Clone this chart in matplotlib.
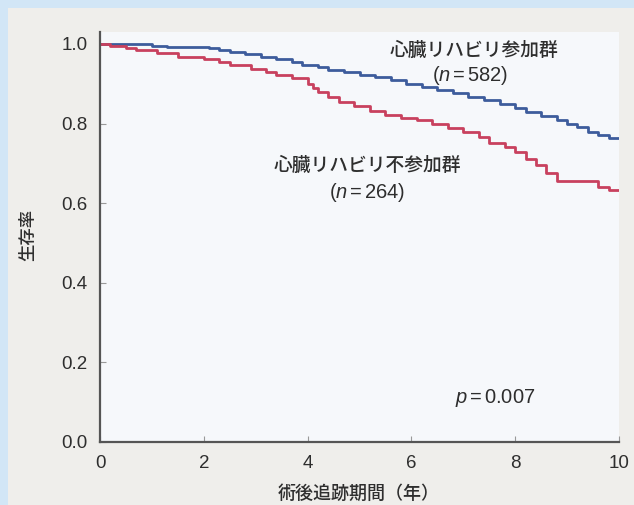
import matplotlib.pyplot as plt
from matplotlib.patches import Rectangle

# survival curves (time in years, survival)
rehab_t = [0, 1.0, 1.3, 2.1, 2.3, 2.5, 2.8, 3.1, 3.4, 3.7, 3.9, 4.2, 4.4, 4.7, 5.0,
           5.3, 5.6, 5.9, 6.2, 6.5, 6.8, 7.1, 7.4, 7.7, 8.0, 8.2, 8.5, 8.8, 9.0,
           9.2, 9.4, 9.6, 9.8, 10.0]
rehab_s = [1.0, 0.995, 0.993, 0.99, 0.985, 0.98, 0.975, 0.968, 0.962, 0.955, 0.948,
           0.942, 0.935, 0.93, 0.923, 0.916, 0.91, 0.9, 0.893, 0.885, 0.876, 0.866,
           0.858, 0.848, 0.838, 0.83, 0.82, 0.81, 0.8, 0.792, 0.78, 0.77, 0.763, 0.763]

norehab_t = [0, 0.2, 0.5, 0.7, 1.1, 1.5, 2.0, 2.3, 2.5, 2.9, 3.2, 3.4, 3.7, 4.0, 4.1,
             4.2, 4.4, 4.6, 4.9, 5.2, 5.5, 5.8, 6.1, 6.4, 6.7, 7.0, 7.3, 7.5, 7.8,
             8.0, 8.2, 8.4, 8.6, 8.8, 9.6, 9.8, 10.0]
norehab_s = [1.0, 0.995, 0.99, 0.985, 0.977, 0.968, 0.962, 0.955, 0.947, 0.938, 0.93,
             0.922, 0.915, 0.9, 0.89, 0.88, 0.866, 0.855, 0.845, 0.832, 0.822, 0.815,
             0.808, 0.8, 0.79, 0.778, 0.765, 0.752, 0.74, 0.728, 0.712, 0.695, 0.675,
             0.655, 0.64, 0.632, 0.632]

xticks = [0, 2, 4, 6, 8, 10]
yticks = [0.0, 0.2, 0.4, 0.6, 0.8, 1.0]

plt.rcParams['font.family'] = ['Liberation Sans', 'Noto Sans CJK JP']
plt.rcParams['mathtext.fontset'] = 'custom'
plt.rcParams['mathtext.it'] = 'Liberation Sans:italic'
plt.rcParams['mathtext.rm'] = 'Liberation Sans'

fig = plt.figure(figsize=(6.34, 5.05), dpi=100, facecolor='#d2e6f6')
fig.patches.append(Rectangle((8 / 634, 0), 1, 1 - 8 / 505, transform=fig.transFigure,
                             facecolor='#efeeeb', edgecolor='none', zorder=-5))

ax = fig.add_axes([100 / 634, 63 / 505, 519 / 634, 410 / 505])
ax.set_facecolor('#f6f8fb')

ax.plot(rehab_t, rehab_s, drawstyle='steps-post', color='#3d5c9c', lw=2)
ax.plot(norehab_t, norehab_s, drawstyle='steps-post', color='#c8415e', lw=2)

ax.set_xlim(0, 10)
ax.set_ylim(0, 1.03)
ax.set_xticks(xticks)
ax.set_yticks(yticks)
ax.set_yticklabels([f"{v:.1f}" for v in yticks])
ax.tick_params(direction='in', length=4, width=0.8, colors='#999999',
               labelcolor='#2e2e2e', labelsize=13.5, pad=9)
for s in ['top', 'right']:
    ax.spines[s].set_visible(False)
for s in ['left', 'bottom']:
    ax.spines[s].set_color('#555555')
    ax.spines[s].set_linewidth(1.6)

txt = dict(ha='center', va='center', color='#2e2e2e', fontweight='medium')
ax.text(7.2, 0.983, "心臓リハビリ参加群", fontsize=13.5, **txt)
ax.text(7.13, 0.92, r"($n\,$=$\,$582)", fontsize=14.5, **txt)
ax.text(5.16, 0.694, "心臓リハビリ不参加群", fontsize=13.5, **txt)
ax.text(5.15, 0.626, r"($n\,$=$\,$264)", fontsize=14.5, **txt)
ax.text(7.61, 0.11, r"$p\,$=$\,$0.007", fontsize=14.5, **txt)

fig.text(28 / 634, 1 - 235 / 505, "生存率", rotation=90, ha='center', va='center',
         fontsize=12.5, color='#2e2e2e', fontweight='medium')
fig.text(359 / 634, 1 - 494 / 505, "術後追跡期間（年）", ha='center', va='center',
         fontsize=13, color='#2e2e2e', fontweight='medium')

fig.savefig("out.png", dpi=100, facecolor=fig.get_facecolor())
